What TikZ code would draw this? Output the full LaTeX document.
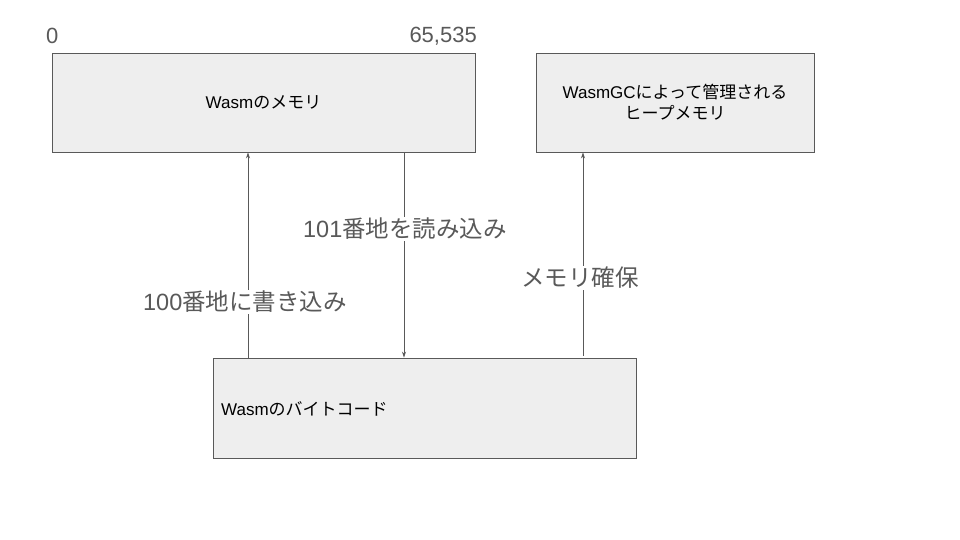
\documentclass[tikz,border=0pt]{standalone}
\usepackage{fontspec}
\setmainfont{Liberation Sans}
\newfontfamily\jp{Noto Sans CJK JP}
\usetikzlibrary{arrows.meta}
\definecolor{boxfill}{HTML}{EEEEEE}
\definecolor{edge}{HTML}{595959}
\definecolor{lbl}{HTML}{595959}
\begin{document}
\begin{tikzpicture}[x=1pt,y=-1pt,
  box/.style={draw=edge,fill=boxfill,line width=0.9pt,inner sep=0pt,font=\fontsize{17}{21}\selectfont,text=black},
  arr/.style={draw=edge,line width=0.8pt,-{Stealth[length=6pt,width=4pt]}},
  elbl/.style={fill=white,text=lbl,font=\fontsize{23.5}{28}\selectfont,inner sep=1pt},
  num/.style={text=lbl,font=\fontsize{22}{26}\selectfont,inner sep=0pt}]
\useasboundingbox (0,0) rectangle (960,540);
\node[box,minimum width=423pt,minimum height=99pt] (mem) at (263.5,102.5) {Wasm{\jp のメモリ}};
\node[box,minimum width=278pt,minimum height=99pt,align=center] (heap) at (675,102.5) {WasmGC{\jp によって管理される}\\{\jp ヒープメモリ}};
\node[box,minimum width=423pt,minimum height=100pt] (byte) at (424.5,408) {};
\node[anchor=west,font=\fontsize{17}{21}\selectfont,inner sep=0pt] (bytet) at (221,409) {Wasm{\jp のバイトコード}};
\node[num,anchor=west] (zero) at (46,36) {0};
\node[num,anchor=east] (max) at (477,36) {65,535};
\coordinate (xa) at (248,0);
\coordinate (xb) at (404,0);
\coordinate (xc) at (583,0);
\draw[arr] (byte.north -| xa) -- (mem.south -| xa);
\draw[arr] (mem.south -| xb) -- (byte.north -| xb);
\draw[arr] ([yshift=2pt]byte.north -| xc) -- (heap.south -| xc);
\node[elbl] (l1) at (245,302) {100{\jp 番地に書き込み}};
\node[elbl] (l2) at (405,229) {101{\jp 番地を読み込み}};
\node[elbl] (l3) at (580,278) {\jp メモリ確保};
\end{tikzpicture}
\end{document}
